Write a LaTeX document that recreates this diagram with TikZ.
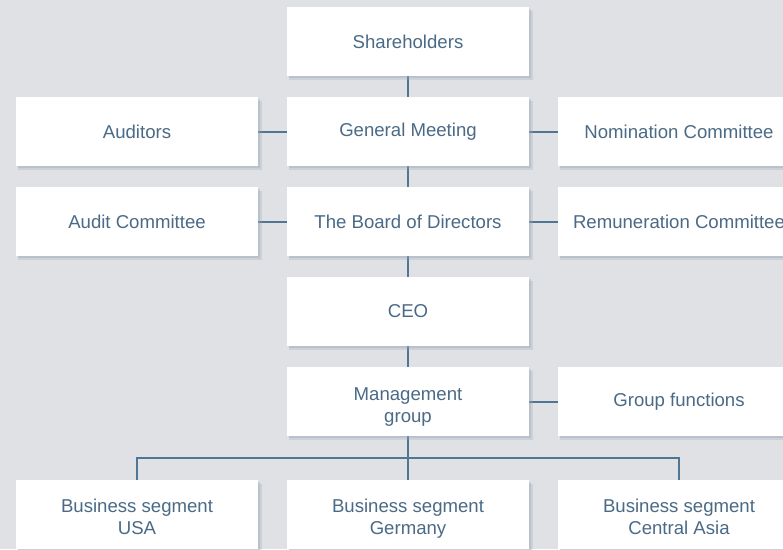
\documentclass[tikz,border=0pt]{standalone}
\usepackage{fontspec}
\setmainfont{Liberation Sans}
\usepackage{tikz}
\usetikzlibrary{shadows,calc,backgrounds}
\definecolor{slate}{RGB}{74,106,134}
\definecolor{wire}{RGB}{80,118,148}
\definecolor{backgr}{RGB}{223,225,228}
\definecolor{shade}{RGB}{150,165,182}
\newcommand{\toprule}[1]{\rule{0pt}{#1}}
\newcommand{\lowrule}{\rule[-4pt]{0pt}{4pt}}

\begin{document}
\begin{tikzpicture}
        \tikzstyle{org node}=[node distance=90pt,align=center,fill=white,text=slate,
            minimum width=242pt,minimum height=69pt,inner sep=0pt,
            font=\fontsize{18.6}{22.5}\selectfont,
            general shadow={fill=shade,opacity=0.25,shadow xshift=3pt,shadow yshift=-4pt,shadow scale=1.01},
            general shadow={fill=shade,opacity=0.35,shadow xshift=1.5pt,shadow yshift=-2pt}]
        \tikzstyle{side node}=[org node,node distance=271pt]
        \tikzstyle{link}=[draw=wire,line width=2pt]
        \useasboundingbox (0,0) rectangle (783pt,-549pt);
        \clip (0,0) rectangle (783pt,-549pt);
        % main column
        \node[org node] (Shareholders) at (408pt,-41.5pt) {Shareholders};
        \node[org node] (Meeting) [below of=Shareholders] {General Meeting};
        \node[org node] (Board) [below of=Meeting] {The Board of Directors};
        \node[org node] (CEO) [below of=Board] {CEO};
        \node[org node] (Management) [below of=CEO] {\toprule{24pt}Management\\group};
        \node[org node,node distance=113pt] (Germany) [below of=Management] {\toprule{22pt}Business segment\\Germany};
        % side boxes
        \node[side node] (Auditors) [left of=Meeting] {Auditors};
        \node[side node] (Nomination) [right of=Meeting] {Nomination Committee};
        \node[side node] (AuditCom) [left of=Board] {Audit Committee};
        \node[side node] (Remuneration) [right of=Board] {Remuneration Committee};
        \node[side node] (Functions) [right of=Management] {Group functions};
        \node[side node] (USA) [left of=Germany] {\toprule{22pt}Business segment\\USA\lowrule};
        \node[side node] (Asia) [right of=Germany] {\toprule{22pt}Business segment\\Central Asia\lowrule};
        % connectors, behind the boxes
        \coordinate (Fork) at ($(Management.south)!0.5!(Germany.north)$);
        \begin{scope}[on background layer]
            \fill[backgr] (0,0) rectangle (783pt,-549pt);
            \draw[link] (Shareholders) -- (Germany);
            \draw[link] (Auditors) -- (Meeting);
            \draw[link] (Meeting) -- (Nomination);
            \draw[link] (AuditCom) -- (Board);
            \draw[link] (Board) -- (Remuneration);
            \draw[link] (Management) -- (Functions);
            \draw[link] (USA) |- (Fork) -| (Asia);
        \end{scope}
    \end{tikzpicture}
\end{document}
